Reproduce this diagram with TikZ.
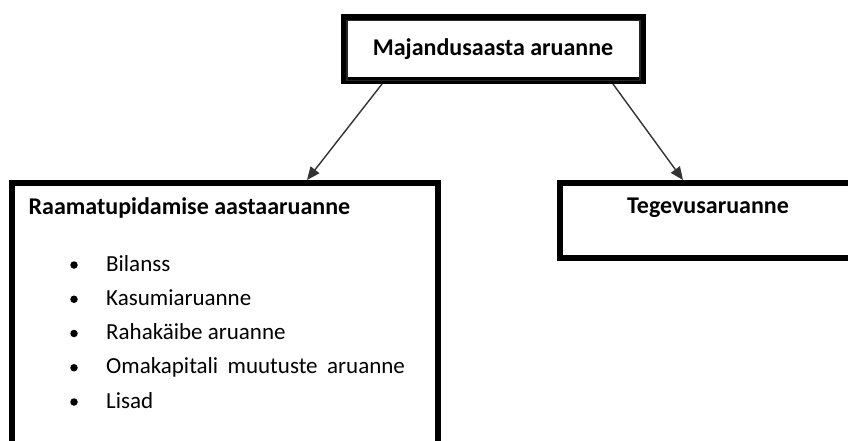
\documentclass[tikz,border=0pt]{standalone}
\usepackage{fontspec}
\setmainfont{Carlito}
\usetikzlibrary{arrows.meta}
\begin{document}
\begin{tikzpicture}[x=1pt,y=-1pt,
  frame/.style={draw=black, line width=6pt, outer sep=3pt, inner sep=0pt},
  heading/.style={font=\fontsize{24}{28}\selectfont\bfseries, inner sep=0pt},
  entry/.style={font=\fontsize{23}{27}\selectfont, anchor=base west, inner sep=0pt},
  dot/.style={circle, fill=black, inner sep=0pt, minimum size=7.5pt},
  link/.style={draw=black!80, line width=1.4pt, -{Triangle[length=13pt,width=11pt]}}]
  \useasboundingbox (0,0) rectangle (848,440);
  \fill[white] (0,0) rectangle (848,440);

  % top box: thick outer frame with a thin inner rule
  \node[frame, line width=7pt, outer sep=3.5pt, minimum width=297.5pt, minimum height=63pt]
    (top) at (493.25,49) {};
  \draw[black!85, line width=1.5pt]
    ([xshift=6pt,yshift=-6.5pt]top.north west) rectangle ([xshift=-5.5pt,yshift=3.5pt]top.south east);
  \node[heading, anchor=base] (toptext) at (493,55) {Majandusaasta aruanne};

  % left box (runs past the lower edge)
  \node[frame, minimum width=426pt, minimum height=277pt] (left) at (225,321.5) {};
  \node[heading, anchor=base west] (lefttext) at (28.5,214) {Raamatupidamise aastaaruanne};

  % right box (runs past the right edge)
  \node[frame, minimum width=310pt, minimum height=75pt] (right) at (715,220.5) {};
  \node[heading, anchor=base] (righttext) at (708,213) {Tegevusaruanne};

  % bullet list
  \node[dot] (d1) at (74,265) {};
  \node[entry] (i1) at (106,271) {Bilanss};
  \node[dot] (d2) at (74,299.25) {};
  \node[entry] (i2) at (106,305.25) {Kasumiaruanne};
  \node[dot] (d3) at (74,333.5) {};
  \node[entry] (i3) at (106,339.5) {Rahakäibe aruanne};
  \node[dot] (d4) at (74,367.75) {};
  \node[entry] (i4) at (106,373.75) {Omakapitali\hspace{9.5pt}muutuste\hspace{9.5pt}aruanne};
  \node[dot] (d5) at (74,402) {};
  \node[entry] (i5) at (106,408) {Lisad};

  % connectors
  \draw[link] ([xshift=-111.25pt]top.south) -- ([xshift=82pt]left.north);
  \draw[link] ([xshift=119.75pt]top.south) -- ([xshift=-32pt]right.north);
\end{tikzpicture}
\end{document}
